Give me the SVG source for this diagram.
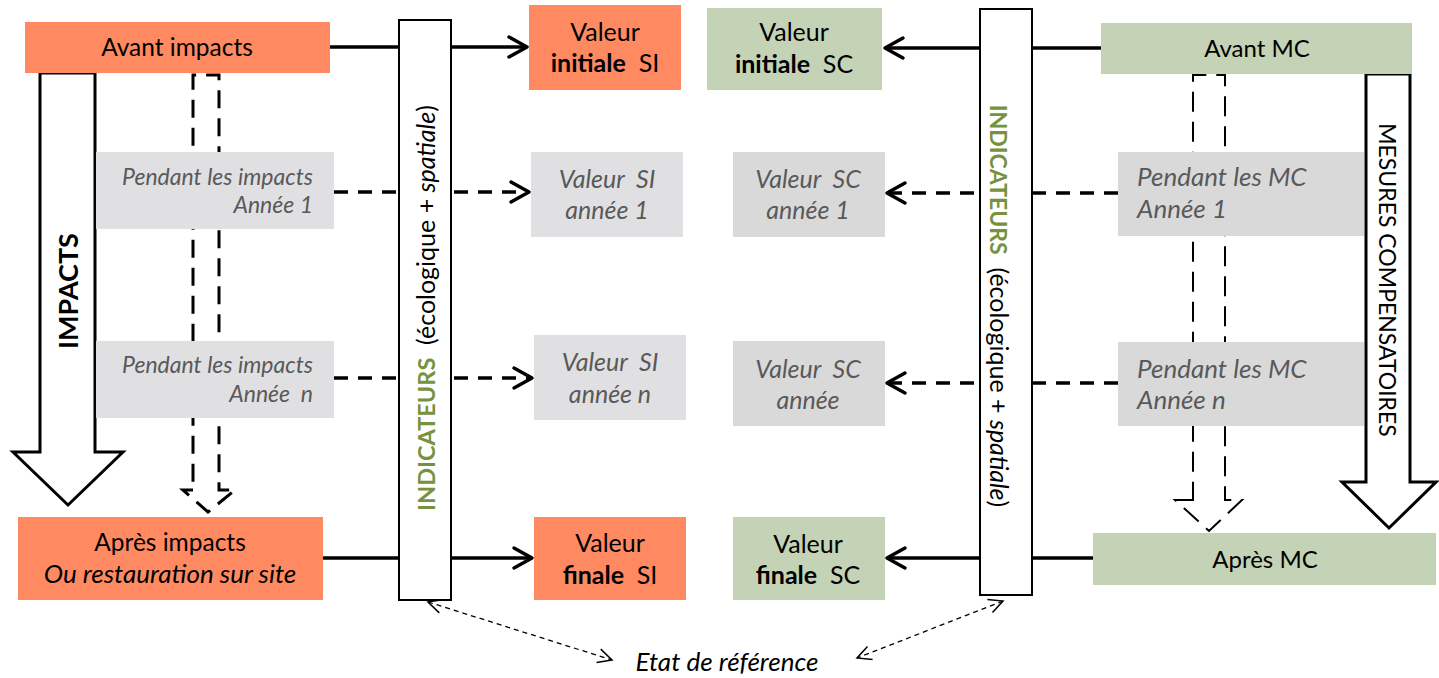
<svg xmlns="http://www.w3.org/2000/svg" width="1439" height="678" viewBox="0 0 1439 678">
<style>
  .t { font-family: Lato, "Liberation Sans", sans-serif; fill: #000; white-space: pre; }
  .c { font-size: 24.5px; }
  .g { font-style: italic; fill: #595959; }
  .coral { fill: #FF8A62; }
  .green { fill: #C4D2B6; }
  .grayL { fill: #E0E0E2; }
  .grayR { fill: #D9D9D9; }
  .solid { stroke: #000; stroke-width: 3.5; fill: none; }
  .dash { stroke: #000; stroke-width: 3.5; fill: none; stroke-dasharray: 14 10; }
  .head { stroke: #000; stroke-width: 3.5; fill: none; stroke-linecap: round; stroke-linejoin: round; }
  .bar { fill: #fff; stroke: #000; stroke-width: 2; }
  .thin { stroke: #000; stroke-width: 1.3; fill: none; stroke-dasharray: 5 4; }
</style>
<defs>
  <marker id="thinhead" viewBox="0 0 20 20" refX="18" refY="10" markerWidth="20" markerHeight="20" markerUnits="userSpaceOnUse" orient="auto-start-reverse">
    <path d="M4,3 L18,10 L4,17" fill="none" stroke="#000" stroke-width="1.5"/>
  </marker>
</defs>
<rect width="1439" height="678" fill="#fff"/>

<!-- big arrows (background) -->
<g id="impacts-arrow">
  <path d="M40,73 L95,73 L95,452 L123,452 L68,505 L13,452 L40,452 Z" fill="#fff" stroke="#000" stroke-width="3"/>
  <text class="t" font-size="27" font-weight="bold" text-anchor="middle" transform="translate(78,291) rotate(-90)">IMPACTS</text>
</g>
<g id="mc-arrow">
  <path d="M1366,74 L1410,74 L1410,482 L1436,482 L1389,528 L1342,482 L1366,482 Z" fill="#fff" stroke="#000" stroke-width="3"/>
  <text class="t" font-size="23" text-anchor="middle" transform="translate(1379,280) rotate(90)">MESURES COMPENSATOIRES</text>
</g>
<g id="dashed-arrow-left">
  <path d="M193,490 L183,490 L208,512 L235,490 L219,490 L219,75 L193,75 Z" fill="none" stroke="#000" stroke-width="3" stroke-dasharray="18 10"/>
</g>
<g id="dashed-arrow-right">
  <path d="M1193,500 L1175,500 L1209,531 L1242,500 L1225,500 L1225,75 L1193,75 Z" fill="none" stroke="#000" stroke-width="2" stroke-dasharray="20 10"/>
</g>

<!-- connectors -->
<g id="connectors">
  <line class="solid" x1="330" y1="47" x2="527" y2="47"/>
  <path class="head" d="M509,37 L527,47 L509,57"/>
  <line class="dash" x1="334" y1="192" x2="529" y2="192"/>
  <path class="head" d="M511,182 L529,192 L511,202"/>
  <line class="dash" x1="334" y1="378" x2="532" y2="378"/>
  <path class="head" d="M514,368 L532,378 L514,388"/>
  <line class="solid" x1="323" y1="558" x2="532" y2="558"/>
  <path class="head" d="M514,548 L532,558 L514,568"/>

  <line class="solid" x1="1101" y1="48" x2="885" y2="48"/>
  <path class="head" d="M903,38 L885,48 L903,58"/>
  <line class="dash" x1="1118" y1="193" x2="887" y2="193"/>
  <path class="head" d="M905,183 L887,193 L905,203"/>
  <line class="dash" x1="1118" y1="383" x2="887" y2="383"/>
  <path class="head" d="M905,373 L887,383 L905,393"/>
  <line class="solid" x1="1093" y1="558" x2="887" y2="558"/>
  <path class="head" d="M905,548 L887,558 L905,568"/>

  <line class="thin" x1="428" y1="602" x2="612" y2="660" marker-start="url(#thinhead)" marker-end="url(#thinhead)"/>
  <line class="thin" x1="1003" y1="601" x2="857" y2="658" marker-start="url(#thinhead)" marker-end="url(#thinhead)"/>
</g>

<!-- indicator bars -->
<g id="indicateurs-si">
  <rect class="bar" x="399" y="20" width="52" height="580"/>
  <text class="t" font-size="25" text-anchor="middle" transform="translate(435,308) rotate(-90)"><tspan font-weight="bold" font-size="23.5" fill="#76923C">INDICATEURS</tspan>  (écologique + <tspan font-style="italic">spatiale</tspan>)</text>
</g>
<g id="indicateurs-sc">
  <rect class="bar" x="980" y="9" width="52" height="586"/>
  <text class="t" font-size="25" text-anchor="middle" transform="translate(990,306) rotate(90)"><tspan font-weight="bold" font-size="23" fill="#76923C">INDICATEURS</tspan>  (écologique + <tspan font-style="italic">spatiale</tspan>)</text>
</g>

<!-- left column -->
<g id="avant-impacts">
  <rect class="coral" x="25" y="22" width="305" height="51"/>
  <text class="t c" x="177" y="56" text-anchor="middle">Avant impacts</text>
</g>
<g id="pendant-impacts-1">
  <rect class="grayL" x="96" y="152" width="238" height="77"/>
  <text class="t g" font-size="23" text-anchor="end"><tspan x="313" y="185">Pendant les impacts</tspan><tspan x="313" y="213">Année 1</tspan></text>
</g>
<g id="pendant-impacts-n">
  <rect class="grayL" x="96" y="341" width="238" height="77"/>
  <text class="t g" font-size="23" text-anchor="end"><tspan x="313" y="373">Pendant les impacts</tspan><tspan x="313" y="402">Année  n</tspan></text>
</g>
<g id="apres-impacts">
  <rect class="coral" x="18" y="517" width="305" height="83"/>
  <text class="t c" text-anchor="middle"><tspan x="170" y="551">Après impacts</tspan><tspan x="170" y="583" font-style="italic" font-size="26">Ou restauration sur site</tspan></text>
</g>

<!-- SI column -->
<g id="valeur-initiale-si">
  <rect class="coral" x="529" y="5" width="152" height="85"/>
  <text class="t" font-size="25" text-anchor="middle"><tspan x="605" y="41">Valeur</tspan><tspan x="605" y="72"><tspan font-weight="bold">initiale</tspan>  SI</tspan></text>
</g>
<g id="valeur-si-1">
  <rect class="grayL" x="531" y="152" width="152" height="85"/>
  <text class="t g" font-size="25" text-anchor="middle"><tspan x="607" y="188">Valeur  SI</tspan><tspan x="607" y="219">année 1</tspan></text>
</g>
<g id="valeur-si-n">
  <rect class="grayL" x="534" y="335" width="152" height="85"/>
  <text class="t g" font-size="25" text-anchor="middle"><tspan x="610" y="371">Valeur  SI</tspan><tspan x="610" y="403">année n</tspan></text>
</g>
<g id="valeur-finale-si">
  <rect class="coral" x="534" y="517" width="152" height="83"/>
  <text class="t" font-size="25" text-anchor="middle"><tspan x="610" y="552">Valeur</tspan><tspan x="610" y="584"><tspan font-weight="bold">finale</tspan>  SI</tspan></text>
</g>

<!-- SC column -->
<g id="valeur-initiale-sc">
  <rect class="green" x="707" y="8" width="175" height="82"/>
  <text class="t" font-size="25" text-anchor="middle"><tspan x="794" y="41">Valeur</tspan><tspan x="794" y="73"><tspan font-weight="bold">initiale</tspan>  SC</tspan></text>
</g>
<g id="valeur-sc-1">
  <rect class="grayR" x="733" y="152" width="152" height="85"/>
  <text class="t g" font-size="25" text-anchor="middle"><tspan x="808" y="188">Valeur  SC</tspan><tspan x="808" y="219">année 1</tspan></text>
</g>
<g id="valeur-sc-n">
  <rect class="grayR" x="733" y="341" width="152" height="85"/>
  <text class="t g" font-size="25" text-anchor="middle"><tspan x="808" y="378">Valeur  SC</tspan><tspan x="808" y="409">année</tspan></text>
</g>
<g id="valeur-finale-sc">
  <rect class="green" x="733" y="517" width="152" height="83"/>
  <text class="t" font-size="25" text-anchor="middle"><tspan x="808" y="553">Valeur</tspan><tspan x="808" y="584"><tspan font-weight="bold">finale</tspan>  SC</tspan></text>
</g>

<!-- right column -->
<g id="avant-mc">
  <rect class="green" x="1101" y="23" width="311" height="51"/>
  <text class="t" font-size="24" x="1257" y="57" text-anchor="middle">Avant MC</text>
</g>
<g id="pendant-mc-1">
  <rect class="grayR" x="1118" y="152" width="246" height="84"/>
  <text class="t g" font-size="26"><tspan x="1137" y="186">Pendant les MC</tspan><tspan x="1137" y="218">Année 1</tspan></text>
</g>
<g id="pendant-mc-n">
  <rect class="grayR" x="1118" y="342" width="246" height="84"/>
  <text class="t g" font-size="26"><tspan x="1137" y="378">Pendant les MC</tspan><tspan x="1137" y="409">Année n</tspan></text>
</g>
<g id="apres-mc">
  <rect class="green" x="1093" y="533" width="343" height="52"/>
  <text class="t" font-size="24" x="1265" y="568" text-anchor="middle">Après MC</text>
</g>

<g id="etat-reference">
  <text class="t" font-size="26" font-style="italic" x="727" y="671" text-anchor="middle">Etat de référence</text>
</g>
</svg>
